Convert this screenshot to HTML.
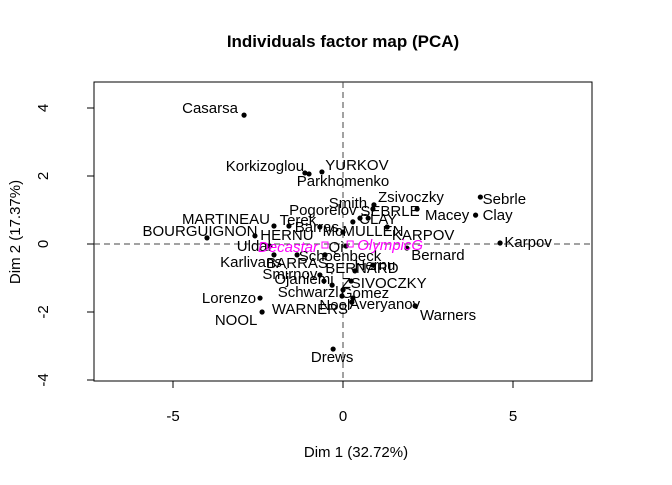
<!DOCTYPE html>
<html><head><meta charset="utf-8"><style>
body{margin:0;background:#fff;}
svg text{font-family:"Liberation Sans",Arial,sans-serif;}
</style></head><body>
<svg id="chart" width="672" height="480" viewBox="0 0 672 480">
<rect width="672" height="480" fill="#fff"/>
<text x="343" y="47" text-anchor="middle" font-size="17" font-weight="bold">Individuals factor map (PCA)</text>
<text x="356" y="457" text-anchor="middle" font-size="15">Dim 1 (32.72%)</text>
<text x="20" y="232" text-anchor="middle" font-size="15" transform="rotate(-90 20 232)">Dim 2 (17.37%)</text>
<rect x="94" y="82" width="498" height="299" fill="none" stroke="#000"/>
<g id="axes"></g>
<g id="marks"></g>
</svg>
<script>
const names = ["Casarsa","Korkizoglou","YURKOV","Parkhomenko","Smith","Zsivoczky","Sebrle","Clay","Karpov","Macey","SEBRLE","CLAY","Pogorelov","MARTINEAU","Terek","BOURGUIGNON","HERNU","Barras","McMULLEN","KARPOV","Uldal","Qi","Bernard","Schoenbeck","Karlivans","BARRAS","Hernu","BERNARD","Smirnov","Ojaniemi","ZSIVOCZKY","Schwarzl","Gomez","Nool","Averyanov","Lorenzo","NOOL","WARNERS","Warners","Drews"];
const dim1 = [-2.91,-1.12,-0.62,-1.00,0.91,0.88,4.04,3.90,4.62,2.18,0.50,0.74,0.29,-2.03,-1.59,-4.00,-2.59,-0.68,0.00,1.30,-2.15,0.09,1.88,-0.53,-2.03,-1.35,0.88,0.35,-0.68,-0.56,0.24,-0.32,0.00,0.29,0.26,-2.44,-2.38,-0.03,2.12,-0.29];
const dim2 = [3.79,2.09,2.12,2.06,1.15,1.03,1.38,0.85,0.03,1.03,0.76,0.76,0.65,0.53,0.53,0.18,0.24,0.50,0.35,0.50,-0.06,-0.06,-0.12,-0.32,-0.32,-0.32,-0.62,-0.79,-0.91,-1.09,-1.09,-1.21,-1.35,-1.59,-1.71,-1.59,-2.00,-1.53,-1.82,-3.09];
const labelDx = [-34,-40,35,34,-26,38,24,22,28,30,30,10,-30,-48,9,-7,32,-3,20,36,-16,-10,31,15,-23,0,2,7,-30,-20,33,-24,22,-18,33,-31,-26,-32,33,-1];
const labelDy = [-2,-2,-2,12,3,-7,7,5,4,11,-2,6,-7,-2,-1,-2,4,5,4,13,5,6,12,6,12,13,5,2,4,3,7,12,8,12,7,5,13,18,14,13];
const supNames = ["Decastar","OlympicG"];
const supDim1 = [-0.53,0.21];
const supDim2 = [-0.03,0.00];
const xTicks = [-5,0,5];
const yTicks = [-4,-2,0,2,4];

const ns = "http://www.w3.org/2000/svg";
const X = v => 343 + v*34;
const Y = v => 244 - v*34;
function mk(tag, attrs, parent){const e=document.createElementNS(ns,tag);for(const k in attrs)e.setAttribute(k,attrs[k]);parent.appendChild(e);return e;}
const axes=document.getElementById('axes'), marks=document.getElementById('marks');

xTicks.forEach(t=>{
  const l=mk('line',{x1:X(t),x2:X(t),y1:381,y2:388,stroke:'#000'},axes);
  
  
  const tx=mk('text',{x:X(t),y:421,'text-anchor':'middle','font-size':15},axes);
  tx.textContent=t;
  
  
});
yTicks.forEach(t=>{
  const l=mk('line',{x1:87,x2:94,y1:Y(t),y2:Y(t),stroke:'#000'},axes);
  
  
  const tx=mk('text',{x:0,y:0,'text-anchor':'middle','font-size':15,transform:`translate(48 ${Y(t)}) rotate(-90)`},axes);
  tx.textContent=t;
  
  
});
const vl=mk('line',{x1:X(0),x2:X(0),y1:82,y2:381,stroke:'#444','stroke-dasharray':'6,4'},axes);


const hl=mk('line',{x1:94,x2:592,y1:Y(0),y2:Y(0),stroke:'#444','stroke-dasharray':'6,4'},axes);



names.forEach((n,i)=>{
  const c=mk('circle',{cx:X(dim1[i]),cy:Y(dim2[i]),r:2.6,fill:'#000'},marks);
  
  
  const t=mk('text',{x:X(dim1[i])+labelDx[i],y:Y(dim2[i])+labelDy[i],'text-anchor':'middle','font-size':15},marks);
  t.textContent=n;
  
  
});
const supDx=[-37,40], supDy=[7,6];
supNames.forEach((n,i)=>{
  const r=mk('rect',{x:X(supDim1[i])-3,y:Y(supDim2[i])-3,width:6,height:6,fill:'none',stroke:'#f0f'},marks);
  
  
  const t=mk('text',{x:X(supDim1[i])+supDx[i],y:Y(supDim2[i])+supDy[i],'text-anchor':'middle','font-size':15,'font-style':'italic',fill:'#f0f'},marks);
  t.textContent=n;
  
  
});
</script>
</body></html>
